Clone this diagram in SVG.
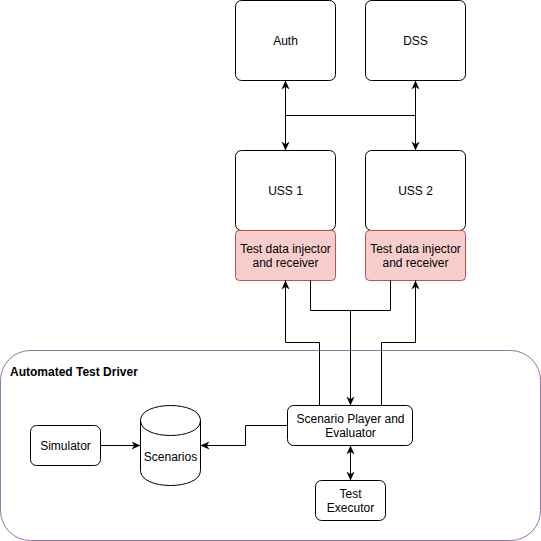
<svg xmlns="http://www.w3.org/2000/svg" width="541" height="541" viewBox="0 0 541 541">
<style>
.box{fill:#ffffff;stroke:#000000;stroke-width:1}
.pink{fill:#f8cecc;stroke:#b85450;stroke-width:1}
.t{font-family:"Liberation Sans",Arial,sans-serif;font-size:12px;fill:#000000;text-anchor:middle;dominant-baseline:central}
.e{fill:none;stroke:#000000;stroke-width:1}
</style>
<defs>
<marker id="arr" viewBox="0 0 10 10" refX="10" refY="5" markerWidth="9" markerHeight="9" markerUnits="userSpaceOnUse" orient="auto-start-reverse">
<path d="M0,0.5 L10,5 L0,9.5 L3,5 Z" fill="#000000"/>
</marker>
</defs>
<rect x="0.5" y="350.5" width="540" height="190" rx="30" ry="30" fill="#ffffff" stroke="#9673a6" stroke-width="1"/>
<text x="10" y="372" font-family="'Liberation Sans',Arial,sans-serif" font-size="12px" font-weight="bold" dominant-baseline="central">Automated Test Driver</text>
<g id="auth"><rect class="box" x="235.5" y="0.5" width="100" height="80" rx="6"/><text class="t" x="285.5" y="41">Auth</text></g>
<g id="dss"><rect class="box" x="365.5" y="0.5" width="100" height="80" rx="6"/><text class="t" x="415.5" y="41">DSS</text></g>
<g id="uss1"><rect class="box" x="235.5" y="150.5" width="100" height="80" rx="6"/><text class="t" x="285.5" y="191">USS 1</text></g>
<g id="uss2"><rect class="box" x="365.5" y="150.5" width="100" height="80" rx="6"/><text class="t" x="415.5" y="191">USS 2</text></g>
<g id="inj1"><rect class="pink" x="235.5" y="230.5" width="100" height="50" rx="4"/><text class="t" x="285.5" y="249">Test data injector</text><text class="t" x="285.5" y="263">and receiver</text></g>
<g id="inj2"><rect class="pink" x="365.5" y="230.5" width="100" height="50" rx="4"/><text class="t" x="415.5" y="249">Test data injector</text><text class="t" x="415.5" y="263">and receiver</text></g>
<g id="simulator"><rect class="box" x="30.5" y="425.5" width="70" height="40" rx="6"/><text class="t" x="65.5" y="446">Simulator</text></g>
<g id="scenarios">
<path class="box" d="M140.5,420.5 C140.5,400.5 200.5,400.5 200.5,420.5 L200.5,470.5 C200.5,490.5 140.5,490.5 140.5,470.5 Z"/>
<path class="e" d="M140.5,420.5 C140.5,440.5 200.5,440.5 200.5,420.5"/>
<text class="t" x="170.5" y="457">Scenarios</text>
</g>
<g id="player"><rect class="box" x="287.5" y="405.5" width="125" height="40" rx="6"/><text class="t" x="350.5" y="419">Scenario Player and</text><text class="t" x="350.5" y="433">Evaluator</text></g>
<g id="executor"><rect class="box" x="315.5" y="480.5" width="70" height="40" rx="6"/><text class="t" x="350.5" y="494">Test</text><text class="t" x="350.5" y="508">Executor</text></g>
<g id="connectors">
<path class="e" d="M285.5,80.5 V150.5" marker-start="url(#arr)" marker-end="url(#arr)"/>
<path class="e" d="M415.5,80.5 V150.5" marker-start="url(#arr)" marker-end="url(#arr)"/>
<path class="e" d="M285.5,115.5 H415.5"/>
<path class="e" d="M319.5,405.5 V342.5 H285.5 V280.5" marker-end="url(#arr)"/>
<path class="e" d="M381.5,405.5 V342.5 H415.5 V280.5" marker-end="url(#arr)"/>
<path class="e" d="M310.5,280.5 V310.5 H390.5 V280.5"/>
<path class="e" d="M350.5,310.5 V405.5" marker-end="url(#arr)"/>
<path class="e" d="M100.5,445.5 H140.5" marker-end="url(#arr)"/>
<path class="e" d="M287.5,425.5 H245.5 V445.5 H200.5" marker-end="url(#arr)"/>
<path class="e" d="M350.5,445.5 V480.5" marker-start="url(#arr)" marker-end="url(#arr)"/>
</g>
</svg>
